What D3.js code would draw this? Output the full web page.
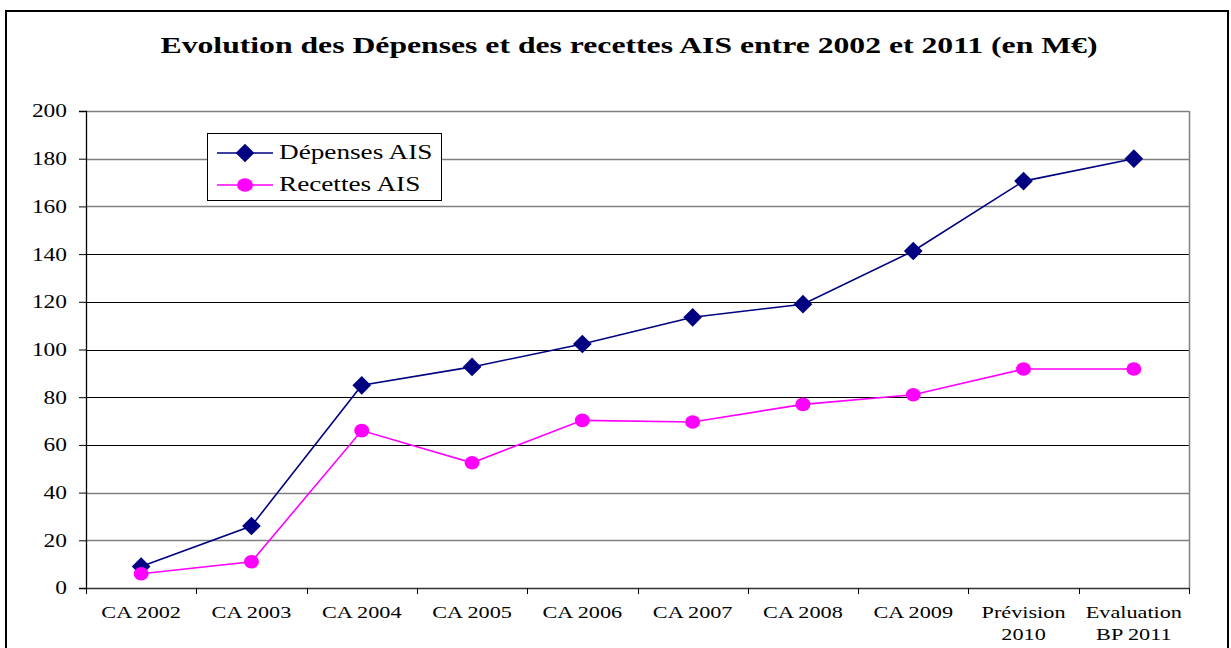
<!DOCTYPE html>
<html><head><meta charset="utf-8">
<script src="https://cdn.jsdelivr.net/npm/d3@7"></script>
<style>body{margin:0;background:#fff}svg{display:block}</style>
</head><body>
<svg id="c" width="1231" height="648"></svg>
<script>
const categories = [["CA 2002"],["CA 2003"],["CA 2004"],["CA 2005"],["CA 2006"],["CA 2007"],["CA 2008"],["CA 2009"],["Prévision","2010"],["Evaluation","BP 2011"]];
const depenses = [9, 26, 85, 92.7, 102.3, 113.5, 119, 141.3, 170.6, 180];
const recettes = [6, 11, 66, 52.5, 70.3, 69.6, 77, 81, 91.8, 91.8];
const yTicks = [0,20,40,60,80,100,120,140,160,180,200];
const seriesNames = ["Dépenses AIS","Recettes AIS"];
const title = "Evolution des Dépenses et des recettes AIS entre 2002 et 2011 (en M€)";

const svg = d3.select("#c");
const serif = "'Liberation Serif','DejaVu Serif',serif";
const STRETCH = 1.28;
function stretch(sel, k){
  sel.each(function(){
    const n=this.getComputedTextLength();
    d3.select(this).attr("textLength",n*(k||STRETCH)).attr("lengthAdjust","spacingAndGlyphs");
  });
}
const L=86, R=1189, T=111, B=588;
const x = d3.scaleBand().domain(d3.range(categories.length)).range([L,R]);
const y = d3.scaleLinear().domain([0,200]).range([B,T]);
const cx = i => x(i)+x.bandwidth()/2;

// outer frame
svg.append("rect").attr("x",6).attr("y",11).attr("width",1222).attr("height",660)
  .attr("fill","none").attr("stroke","#000").attr("stroke-width",2);

// title
svg.append("text").attr("x",629).attr("y",53).attr("text-anchor","middle")
  .attr("font-family",serif).attr("font-weight","bold").attr("font-size",24)
  .attr("textLength",937).attr("lengthAdjust","spacingAndGlyphs")
  .text(title);

// gridlines
const grayLines = new Set([20,40,160,180,200]);
svg.append("g").selectAll("line").data(yTicks.filter(d=>d>0)).join("line")
  .attr("x1",L).attr("x2",R).attr("y1",d=>Math.round(y(d))+0.5).attr("y2",d=>Math.round(y(d))+0.5)
  .attr("stroke",d=>grayLines.has(d)?"#808080":"#000").attr("stroke-width",d=>grayLines.has(d)?1.3:1);
// right border
svg.append("line").attr("x1",R+0.5).attr("x2",R+0.5).attr("y1",T).attr("y2",B)
  .attr("stroke","#808080").attr("stroke-width",1.5);

// y axis
const ya = svg.append("g").attr("transform",`translate(${L},0)`)
  .call(d3.axisLeft(y).tickValues(yTicks).tickSize(7).tickPadding(12));
ya.select(".domain").attr("stroke","#000").attr("stroke-width",1.3);
ya.selectAll(".tick line").attr("stroke","#000");
ya.selectAll("text").attr("font-family",serif).attr("font-size",18).attr("fill","#000").attr("dy","0.33em");
stretch(ya.selectAll("text"), 1.3);

// x axis
const xa = svg.append("g").attr("transform",`translate(0,${B})`);
xa.append("line").attr("x1",L).attr("x2",R).attr("y1",0.5).attr("y2",0.5).attr("stroke","#333").attr("stroke-width",1.6);
xa.selectAll("line.t").data(d3.range(categories.length+1)).join("line").attr("class","t")
  .attr("x1",i=>Math.round(L+i*x.bandwidth())+0.5).attr("x2",i=>Math.round(L+i*x.bandwidth())+0.5)
  .attr("y1",0).attr("y2",6).attr("stroke","#000");
const xl = xa.selectAll("text.xl").data(categories).join("text").attr("class","xl")
  .attr("font-family",serif).attr("font-size",17.5).attr("text-anchor","middle").attr("fill","#000");
xl.each(function(lines,i){
  const t=d3.select(this);
  lines.forEach((s,k)=>t.append("tspan").attr("x",cx(i)).attr("y",30+k*22).text(s));
});
stretch(xl.selectAll("tspan"), 1.27);

// lines
const line = d3.line().x((d,i)=>cx(i)).y(d=>y(d));
svg.append("path").datum(depenses).attr("d",line).attr("fill","none").attr("stroke","#000080").attr("stroke-width",1.6);
svg.append("path").datum(recettes).attr("d",line).attr("fill","none").attr("stroke","#FF00FF").attr("stroke-width",1.6);

const diamond = d3.symbol().type(d3.symbolSquare).size(175);
svg.append("g").selectAll("path").data(depenses).join("path")
  .attr("d",diamond).attr("transform",(d,i)=>`translate(${cx(i)},${y(d)}) rotate(45)`).attr("fill","#000080");
svg.append("g").selectAll("ellipse").data(recettes).join("ellipse")
  .attr("cx",(d,i)=>cx(i)).attr("cy",d=>y(d)).attr("rx",7.5).attr("ry",6.8).attr("fill","#FF00FF");

// legend
const lg = svg.append("g");
lg.append("rect").attr("x",207.5).attr("y",133.5).attr("width",234).attr("height",67)
  .attr("fill","#fff").attr("stroke","#000").attr("stroke-width",1);
const cols = ["#000080","#FF00FF"];
seriesNames.forEach((n,k)=>{
  const yy = 153 + k*32;
  lg.append("line").attr("x1",217).attr("x2",273).attr("y1",yy).attr("y2",yy).attr("stroke",cols[k]).attr("stroke-width",1.5);
  if(k===0) lg.append("path").attr("d",diamond).attr("transform",`translate(245,${yy}) rotate(45)`).attr("fill",cols[k]);
  else lg.append("ellipse").attr("cx",245).attr("cy",yy).attr("rx",8).attr("ry",6.8).attr("fill",cols[k]);
  lg.append("text").attr("x",279).attr("y",yy+6).attr("font-family",serif).attr("font-size",20).attr("fill","#000").text(n)
    .call(s=>stretch(s,1.36));
});
</script>
</body></html>
